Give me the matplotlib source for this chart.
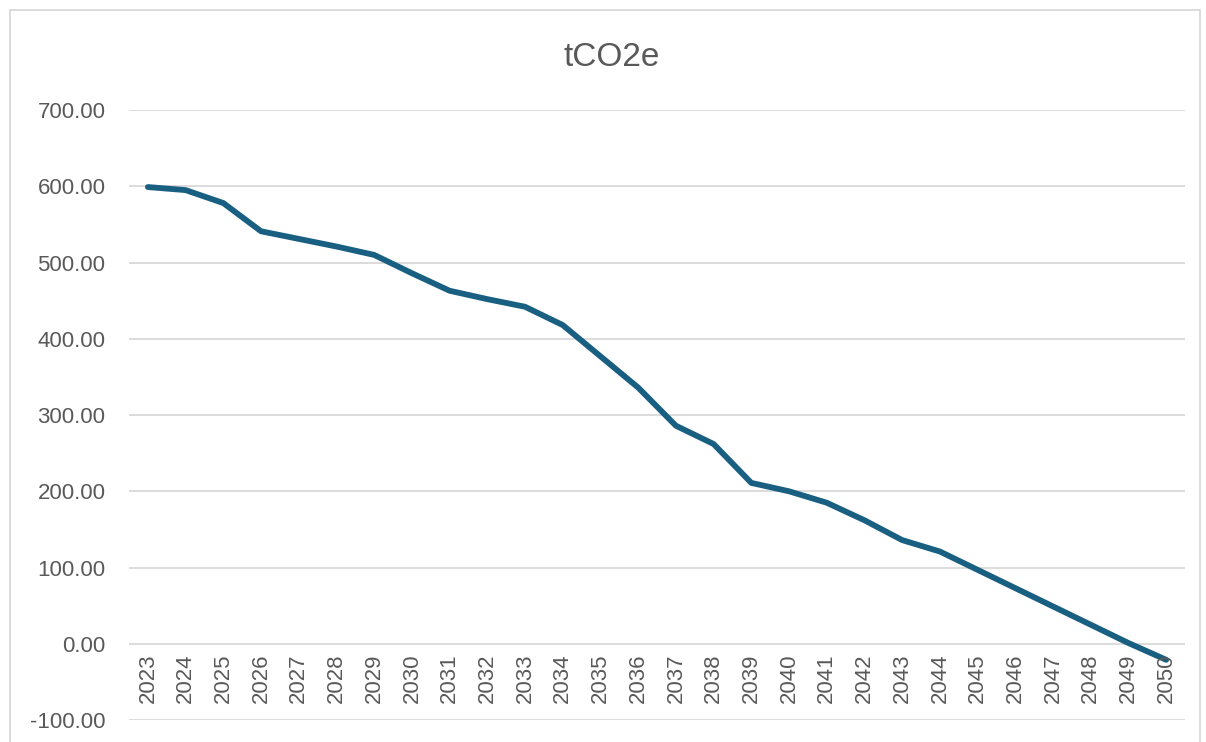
import matplotlib.pyplot as plt
from matplotlib.patches import Rectangle

years = [str(y) for y in range(2023, 2051)]
values = [599, 595, 578, 541, 531, 521, 510, 486, 463, 452, 442, 418,
          377, 336, 286, 262, 211, 200, 185, 162, 136, 121, 97, 73,
          49, 25, 1, -21]
yticks = [-100, 0, 100, 200, 300, 400, 500, 600, 700]

plt.rcParams['font.family'] = ['Liberation Sans', 'DejaVu Sans']
grey = '#595959'

fig = plt.figure(figsize=(12.06, 7.42), dpi=100)
ax = fig.add_axes([0.107, 0.0296, 0.8756, 0.8221])

x = list(range(len(years)))
ax.plot(x, values, color='#185F82', linewidth=4.2, solid_capstyle='round',
        solid_joinstyle='round', zorder=3)

ax.set_xlim(-0.5, len(years) - 0.5)
ax.set_ylim(-100, 700)
ax.set_yticks(yticks)
ax.set_yticklabels([f'{v:.2f}' for v in yticks], color=grey, fontsize=16)
ax.tick_params(axis='y', length=0, pad=17)
ax.set_xticks([])
ax.grid(axis='y', color='#D9D9D9', linewidth=1.3)
ax.set_axisbelow(True)
for s in ax.spines.values():
    s.set_visible(False)

# category labels sit just under the zero line
for i, yr in enumerate(years):
    ax.annotate(yr, (i, 0), xytext=(0, -7), textcoords='offset points',
                rotation=90, ha='center', va='top', color=grey, fontsize=16)

fig.text(0.507, 0.922, 'tCO2e', ha='center', va='center', color=grey, fontsize=24)

fig.add_artist(Rectangle((10 / 1206, -0.1), 1190 / 1206, 1.1 - 10 / 742,
                         transform=fig.transFigure, fill=False,
                         edgecolor='#D9D9D9', linewidth=1.3))

fig.savefig('out.png', dpi=100)
